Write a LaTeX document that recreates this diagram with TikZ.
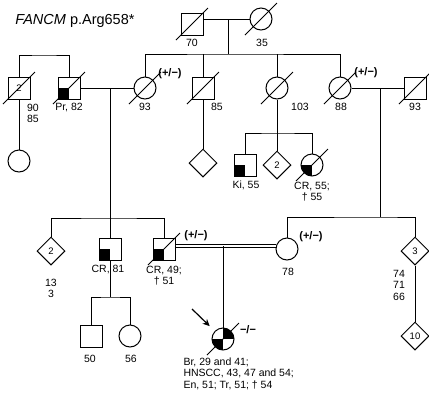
\documentclass[tikz,border=0pt]{standalone}
\usepackage{fontspec}
\setmainfont{Liberation Sans}
\usetikzlibrary{positioning,shapes.geometric,arrows.meta}

\begin{document}
\begin{tikzpicture}[x=1pt, y=-1pt, line width=1pt,
        male/.style     = {rectangle, draw, minimum size=22pt, inner sep=0pt, font=\fontsize{9.5}{9.5}\selectfont},
        female/.style   = {circle, draw, minimum size=22pt, inner sep=0pt},
        unk/.style      = {diamond, draw, minimum size=28pt, inner sep=0pt, font=\fontsize{9.5}{9.5}\selectfont},
        lowleft/.style  = {path picture={\fill (path picture bounding box.center) rectangle (path picture bounding box.south west);}},
        quarters/.style = {path picture={\fill (path picture bounding box.center) rectangle (path picture bounding box.south west);
                                         \fill (path picture bounding box.center) rectangle (path picture bounding box.north east);}},
        lab/.style      = {inner sep=0pt, font=\fontsize{10.5}{11.5}\selectfont, align=center},
        carrier/.style  = {inner sep=0pt, font=\fontsize{11}{11}\selectfont\bfseries},
        marry/.style    = {double, double distance=2pt},
        pointer/.style  = {-{Stealth[length=7pt, width=6.5pt]}, line width=1.2pt, shorten >=7pt}
    ]
    \useasboundingbox (0,0) rectangle (429,392);

    \node[anchor=base west, inner sep=0pt, font=\fontsize{14.5}{14.5}\selectfont] (title) at (15,24) {\textit{FANCM} p.Arg658*};

    % generation I
    \node[male]   (I1) at (192,24) {};
    \node[female] (I2) at (261,19) {};

    % generation II
    \node[male]          (II1) at (19,88)  {2};
    \node[male, lowleft] (II2) at (69,88)  {};
    \node[female]        (II3) at (145,88) {};
    \node[male]          (II4) at (203,88) {};
    \node[female]        (II5) at (277,88) {};
    \node[female]        (II6) at (340,88) {};
    \node[male]          (II7) at (415,88) {};

    % generation III
    \node[female]          (III1)  at (19,161)  {};
    \node[unk]             (III2)  at (203,163) {};
    \node[male, lowleft]   (III3)  at (245,165) {};
    \node[unk]             (III4)  at (277,165) {2};
    \node[female, lowleft] (III5)  at (312,165) {};
    \node[unk]             (III6)  at (51,251)  {2};
    \node[male, lowleft]   (III7)  at (110,249) {};
    \node[male, lowleft]   (III8)  at (164,249) {};
    \node[female]          (III9)  at (287,249) {};
    \node[unk]             (III10) at (415,251) {3};

    % generation IV
    \node[male]             (IV1) at (91,336)  {};
    \node[female]           (IV2) at (130,336) {};
    \node[female, quarters] (IV3) at (223,339) {};
    \node[unk]              (IV4) at (415,336) {10};

    % deceased
    \foreach \n in {I1,I2,II1,II2,II3,II4,II5,II6,II7,III5,III8,IV3}
        \draw ([shift={(-16,16)}]\n.center) -- ([shift={(16,-16)}]\n.center);

    % lines of descent
    \coordinate (m1) at (228,19);
    \coordinate (s1) at (228,54);
    \draw (I1.east |- m1) -- (I2.west);
    \draw (m1) -- (s1);
    \draw (II3.north) |- (s1) -| (II6.north);
    \draw (II4.north) -- (II4.north |- s1);
    \draw (II5.north) -- (II5.north |- s1);

    \coordinate (s0) at (44,55);
    \draw (II1.north) |- (s0) -| (II2.north);
    \draw (II1) -- (III1);
    \draw (II4) -- (III2);

    \draw (II2) -- (II3);
    \coordinate (m2) at (110,88);
    \coordinate (s2) at (110,218);
    \draw (m2) -- (s2);
    \draw (III6.north) |- (s2) -| (III8.north);
    \draw (III7.north) -- (III7.north |- s2);

    \coordinate (s3) at (277,133);
    \draw (II5) -- (s3);
    \draw (III3.north) |- (s3) -| (III5.north);
    \draw (III4.north) -- (III4.north |- s3);

    \draw (II6) -- (II7);
    \coordinate (m3) at (380,88);
    \coordinate (s4) at (380,217);
    \draw (m3) -- (s4);
    \draw (III9.north) |- (s4) -| (III10.north);

    \coordinate (m4) at (223,246);
    \draw[marry] (III8.east |- m4) -- (III9.west |- m4);
    \draw (m4) -- (IV3);

    \coordinate (s5) at (110,297);
    \draw (III7) -- (s5);
    \draw (IV1.north) |- (s5) -| (IV2.north);
    \draw (III10) -- (IV4);

    \coordinate (arr) at (192,309);
    \draw[pointer] (arr) -- (IV3);

    % labels
    \node[lab] (l70)  at (192,43)  {70};
    \node[lab] (l35)  at (262,43)  {35};
    \node[lab, anchor=north] (l90) at (33,103.5) {90\\85};
    \node[lab] (lPr)  at (69,107)  {Pr, 82};
    \node[lab] (l93a) at (145,107) {93};
    \node[lab] (l85)  at (217,107) {85};
    \node[lab] (l103) at (300,107) {103};
    \node[lab] (l88)  at (341,107) {88};
    \node[lab] (l93b) at (415,107) {93};
    \node[lab] (lKi)  at (246,185) {Ki, 55};
    \node[lab, anchor=north] (lCRa) at (312,181.5) {CR, 55;\\† 55};
    \node[lab, anchor=north] (l13)  at (51,278.5)  {13\\3};
    \node[lab] (lCRb) at (108,269) {CR, 81};
    \node[lab, anchor=north] (lCRc) at (164,265.5) {CR, 49;\\† 51};
    \node[lab] (l78)  at (288,272) {78};
    \node[lab, anchor=north] (l74)  at (399,269.5) {74\\71\\66};
    \node[lab] (l50)  at (90,359)  {50};
    \node[lab] (l56)  at (131,359) {56};
    \node[lab, anchor=north west, align=left, font=\fontsize{10.5}{11.8}\selectfont] (lpro) at (183,357)
        {Br, 29 and 41;\\HNSCC, 43, 47 and 54;\\En, 51; Tr, 51; † 54};

    % carrier status
    \node[carrier] (c93) at (170,74)  {(+/−)};
    \node[carrier] (c88) at (366,73)  {(+/−)};
    \node[carrier] (c49) at (196,236) {(+/−)};
    \node[carrier] (c78) at (311,237) {(+/−)};
    \node[carrier] (cpr) at (248,330) {−/−};
\end{tikzpicture}
\end{document}
